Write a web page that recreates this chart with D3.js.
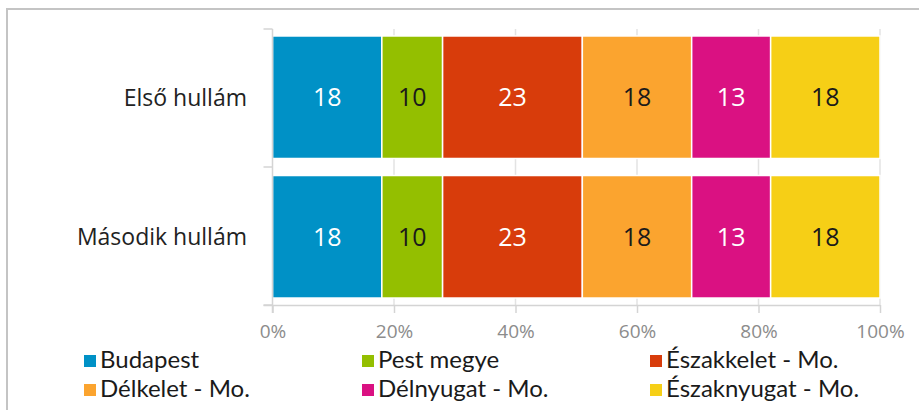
<!DOCTYPE html>
<html>
<head>
<meta charset="utf-8">
<script src="https://cdn.jsdelivr.net/npm/d3@7"></script>
<style>
  html, body { margin: 0; padding: 0; background: #fff; }
  svg { display: block; }
</style>
</head>
<body>
<script>
// Survey waves and regional shares (%)
const categories = ["Első hullám", "Második hullám"];
const regions = ["Budapest", "Pest megye", "Északkelet - Mo.", "Délkelet - Mo.", "Délnyugat - Mo.", "Északnyugat - Mo."];
const budapest    = [18, 18];
const pestMegye   = [10, 10];
const eszakkelet  = [23, 23];
const delkelet    = [18, 18];
const delnyugat   = [13, 13];
const eszaknyugat = [18, 18];
const xTicks = [0, 20, 40, 60, 80, 100];
const xTickLabels = ["0%", "20%", "40%", "60%", "80%", "100%"];

const colors = ["#0091c6", "#94bf00", "#d83c0b", "#fba42f", "#da1182", "#f6cf16"];
const labelColors = ["#ffffff", "#1a1a1a", "#ffffff", "#1a1a1a", "#ffffff", "#1a1a1a"];

const seriesValues = [budapest, pestMegye, eszakkelet, delkelet, delnyugat, eszaknyugat];
const rows = categories.map((c, i) => {
  const r = { category: c };
  regions.forEach((reg, j) => { r[reg] = seriesValues[j][i]; });
  return r;
});

const FONT = "'Open Sans', sans-serif";
const LEGEND_FONT = "Lato, 'Open Sans', sans-serif";
const W = 919, H = 410;
const svg = d3.select("body").append("svg").attr("width", W).attr("height", H);

// outer chart frame
svg.append("path")
  .attr("d", `M7,${H + 5} L7,9 L${W + 5},9`)
  .attr("fill", "none").attr("stroke", "#c4c4c4").attr("stroke-width", 2);

const x0 = 272.5, x1 = 880, yTop = 29, yBot = 305;
const x = d3.scaleLinear().domain([0, 100]).range([x0, x1]);
const y = d3.scaleBand().domain(categories).range([yTop, yBot])
  .paddingInner(0.122).paddingOuter(0.05);

const axisColor = "#d4d4d4";

// vertical gridlines
svg.append("g").selectAll("line").data(xTicks.slice(1)).join("line")
  .attr("x1", d => x(d)).attr("x2", d => x(d))
  .attr("y1", yTop).attr("y2", yBot)
  .attr("stroke", "#e3e3e3").attr("stroke-width", 1.5);

// stacked bars
const stack = d3.stack().keys(regions)(rows);
const g = svg.append("g");
stack.forEach((layer, j) => {
  g.selectAll(null).data(layer).join("rect")
    .attr("x", d => x(d[0]))
    .attr("y", d => y(d.data.category))
    .attr("width", d => x(d[1]) - x(d[0]))
    .attr("height", y.bandwidth())
    .attr("fill", colors[j])
    .attr("stroke", "#ffffff").attr("stroke-width", 1.5);
  g.selectAll(null).data(layer).join("text")
    .attr("x", d => (x(d[0]) + x(d[1])) / 2)
    .attr("y", d => y(d.data.category) + y.bandwidth() / 2 + 9)
    .attr("text-anchor", "middle")
    .attr("font-family", FONT).attr("font-size", 25)
    .attr("fill", labelColors[j])
    .text(d => d[1] - d[0]);
});

// x axis
const xAxis = d3.axisBottom(x).tickValues(xTicks).tickFormat((d, i) => xTickLabels[i]).tickSize(8).tickSizeOuter(0);
const xg = svg.append("g").attr("transform", `translate(0,${yBot})`).call(xAxis);
xg.select(".domain").attr("stroke", axisColor).attr("stroke-width", 1.5)
  .attr("d", `M${x0 - 9},0.5H${x1}`);
xg.selectAll(".tick line").attr("stroke", axisColor).attr("stroke-width", 1.5);
xg.selectAll(".tick text")
  .attr("font-family", FONT).attr("font-size", 19)
  .attr("fill", "#8c8c8c").attr("dy", null).attr("y", 33);

// y axis with category boundary ticks
const yg = svg.append("g");
yg.append("line").attr("x1", x0).attr("x2", x0).attr("y1", yTop).attr("y2", yBot + 8)
  .attr("stroke", axisColor).attr("stroke-width", 1.5);
const boundaries = [yTop, (y(categories[0]) + y.bandwidth() + y(categories[1])) / 2, yBot];
yg.selectAll(null).data(boundaries).join("line")
  .attr("x1", x0 - 9).attr("x2", x0).attr("y1", d => d).attr("y2", d => d)
  .attr("stroke", axisColor).attr("stroke-width", 1.5);
yg.selectAll(null).data(categories).join("text")
  .attr("x", 247).attr("y", d => y(d) + y.bandwidth() / 2 + 8.5)
  .attr("text-anchor", "end")
  .attr("font-family", FONT).attr("font-size", 23)
  .attr("fill", "#222").text(d => d);

// legend, three columns by two rows
const legX = [84, 362, 650], legY = [368, 397];
const leg = svg.append("g").selectAll("g").data(regions).join("g")
  .attr("transform", (d, i) => `translate(${legX[i % 3]},${legY[Math.floor(i / 3)]})`);
leg.append("rect").attr("x", 0).attr("y", -13).attr("width", 12).attr("height", 12)
  .attr("fill", (d, i) => colors[i]);
leg.append("text").attr("x", 16).attr("y", 0)
  .attr("font-family", LEGEND_FONT).attr("font-size", 24)
  .attr("fill", "#1a1a1a").text(d => d);
</script>
</body>
</html>
